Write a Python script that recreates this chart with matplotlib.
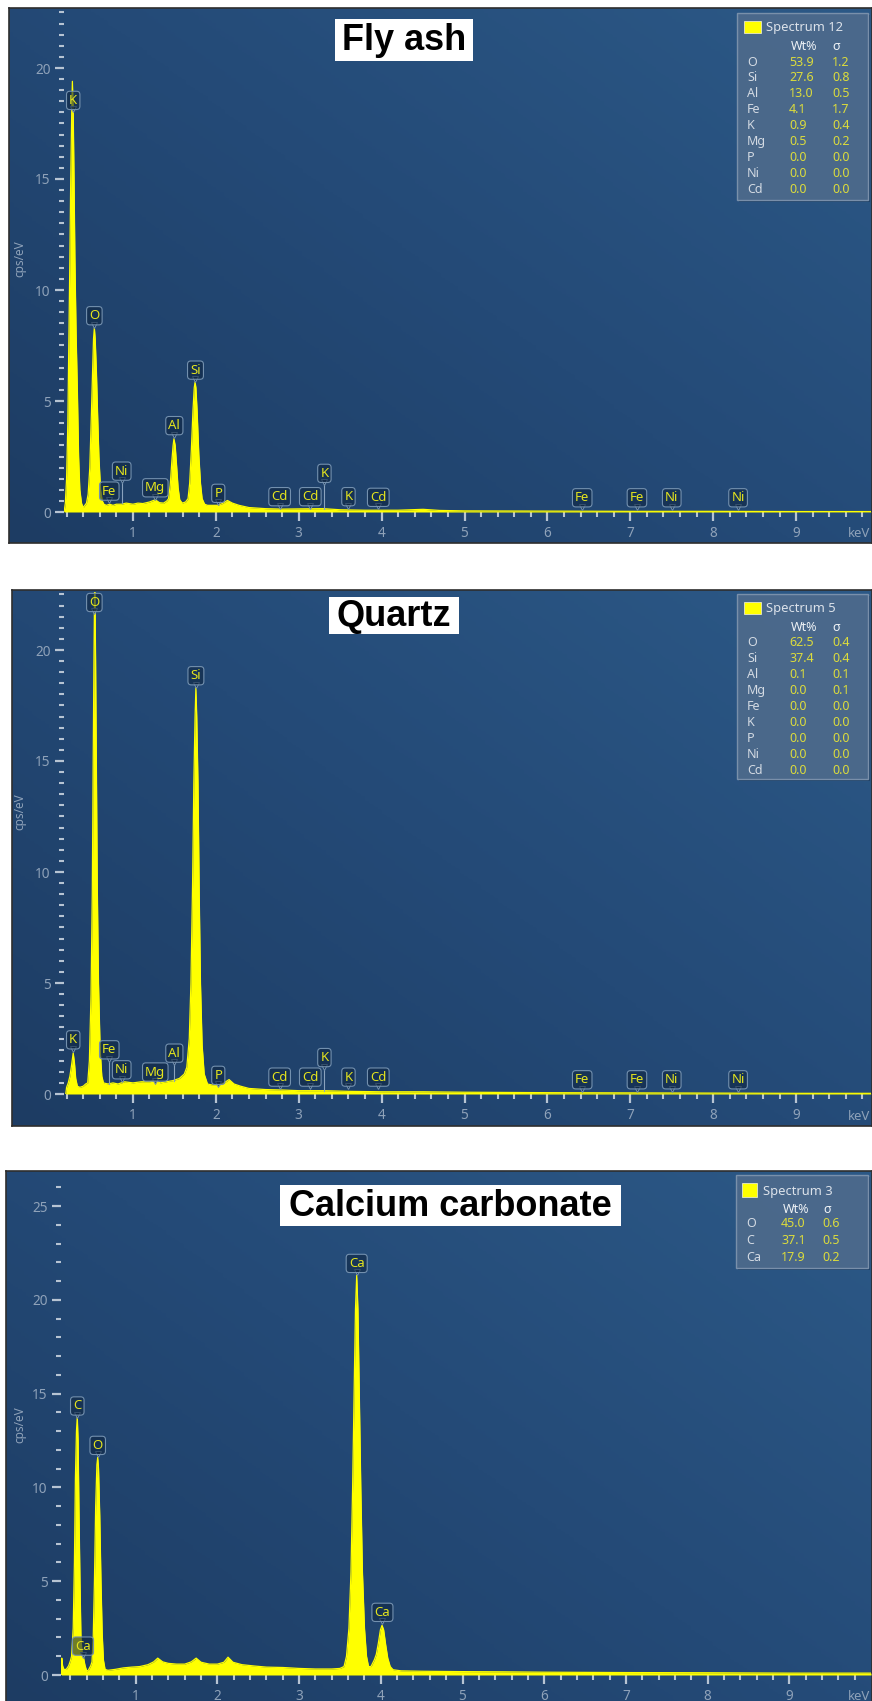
import matplotlib
matplotlib.use('Agg')
import matplotlib.pyplot as plt
import numpy as np
import matplotlib.transforms as mtransforms
from matplotlib.colors import LinearSegmentedColormap
from matplotlib.patches import Rectangle
from matplotlib.ticker import FixedLocator, MultipleLocator

# ---------------- DATA ----------------
panel_titles = ["Fly ash", "Quartz", "Calcium carbonate"]
spectrum_names = ["Spectrum 12", "Spectrum 5", "Spectrum 3"]

fly_elements = ["O", "Si", "Al", "Fe", "K", "Mg", "P", "Ni", "Cd"]
fly_wt = ["53.9", "27.6", "13.0", "4.1", "0.9", "0.5", "0.0", "0.0", "0.0"]
fly_sigma = ["1.2", "0.8", "0.5", "1.7", "0.4", "0.2", "0.0", "0.0", "0.0"]

qz_elements = ["O", "Si", "Al", "Mg", "Fe", "K", "P", "Ni", "Cd"]
qz_wt = ["62.5", "37.4", "0.1", "0.0", "0.0", "0.0", "0.0", "0.0", "0.0"]
qz_sigma = ["0.4", "0.4", "0.1", "0.1", "0.0", "0.0", "0.0", "0.0", "0.0"]

cc_elements = ["O", "C", "Ca"]
cc_wt = ["45.0", "37.1", "17.9"]
cc_sigma = ["0.6", "0.5", "0.2"]

# spectra: (keV, cps/eV)
fly_points = [(0.17, 0.0), (0.185, 0.4), (0.20, 1.5), (0.215, 4.0), (0.225, 7.0), (0.24, 11.5), (0.25, 15.0),
              (0.262, 18.0), (0.27, 19.4), (0.28, 18.0), (0.29, 15.0), (0.30, 11.5), (0.315, 8.0), (0.33, 5.5),
              (0.345, 2.5), (0.36, 1.0), (0.38, 0.4), (0.40, 0.2), (0.42, 0.3),
              (0.44, 0.4), (0.46, 0.8), (0.48, 2.0), (0.50, 4.5), (0.515, 6.5), (0.525, 7.8), (0.535, 8.3),
              (0.545, 7.8), (0.56, 6.3), (0.575, 4.3), (0.59, 2.5), (0.61, 1.0), (0.63, 0.5), (0.65, 0.35),
              (0.68, 0.3), (0.72, 0.35), (0.76, 0.3), (0.80, 0.35), (0.86, 0.35), (0.92, 0.4), (1.00, 0.35),
              (1.06, 0.4), (1.12, 0.38), (1.20, 0.45), (1.27, 0.55), (1.32, 0.42), (1.37, 0.4), (1.41, 0.5),
              (1.43, 0.6), (1.45, 1.2), (1.47, 2.3), (1.485, 3.0), (1.495, 3.3), (1.51, 3.0), (1.525, 2.2),
              (1.545, 1.1), (1.565, 0.55), (1.595, 0.4), (1.635, 0.45),
              (1.665, 0.6), (1.685, 1.3), (1.705, 2.8), (1.725, 4.6), (1.74, 5.6), (1.75, 5.85), (1.76, 5.6),
              (1.775, 4.5), (1.795, 2.6), (1.815, 1.3), (1.835, 0.6), (1.865, 0.35), (1.90, 0.3), (1.96, 0.3),
              (2.02, 0.3), (2.08, 0.38), (2.14, 0.52), (2.20, 0.4), (2.28, 0.3), (2.40, 0.2), (2.60, 0.15),
              (2.80, 0.13), (3.00, 0.14), (3.30, 0.15), (3.50, 0.1), (3.80, 0.08), (4.20, 0.08), (4.50, 0.12),
              (4.70, 0.07), (5.00, 0.05), (6.00, 0.04), (7.00, 0.03), (8.00, 0.03), (9.00, 0.02), (9.90, 0.02)]

qz_points = [(0.19, 0.0), (0.20, 0.3), (0.22, 0.5), (0.24, 0.8), (0.26, 1.3), (0.28, 1.85), (0.295, 1.4),
             (0.31, 0.7), (0.33, 0.35), (0.36, 0.3), (0.40, 0.35), (0.43, 0.45),
             (0.455, 0.5), (0.475, 1.5), (0.495, 4.5), (0.51, 9.0), (0.52, 14.5), (0.53, 19.5), (0.54, 23.5),
             (0.55, 19.5), (0.56, 14.5), (0.57, 9.5), (0.585, 5.0), (0.605, 2.0), (0.625, 0.8), (0.645, 0.5),
             (0.70, 0.45), (0.76, 0.5), (0.82, 0.45), (0.90, 0.55), (1.00, 0.5), (1.10, 0.55), (1.20, 0.55),
             (1.27, 0.6), (1.33, 0.5), (1.40, 0.55), (1.48, 0.6), (1.56, 0.7), (1.62, 0.9),
             (1.65, 1.2), (1.68, 2.5), (1.70, 5.0), (1.72, 9.5), (1.735, 14.0), (1.75, 17.0), (1.76, 18.3),
             (1.77, 17.0), (1.785, 14.0), (1.80, 9.0), (1.815, 5.0), (1.835, 2.2), (1.86, 0.9), (1.90, 0.45),
             (1.96, 0.4), (2.04, 0.4), (2.10, 0.5), (2.16, 0.65), (2.22, 0.45), (2.30, 0.35), (2.40, 0.25),
             (2.60, 0.2), (2.80, 0.18), (3.00, 0.15), (3.30, 0.15), (3.60, 0.12), (4.00, 0.1), (4.50, 0.1),
             (5.00, 0.08), (6.00, 0.06), (7.00, 0.05), (8.00, 0.04), (9.00, 0.03), (9.90, 0.03)]

cc_points = [(0.09, 0.0), (0.095, 0.9), (0.105, 0.5), (0.12, 0.3), (0.15, 0.3), (0.18, 0.5), (0.20, 0.75),
             (0.215, 1.0), (0.235, 2.5), (0.25, 6.0), (0.262, 10.5), (0.275, 13.0), (0.285, 13.75),
             (0.295, 12.5), (0.305, 9.0), (0.318, 5.0), (0.33, 2.0), (0.345, 1.1), (0.36, 0.95), (0.38, 0.5),
             (0.40, 0.22), (0.42, 0.25), (0.45, 0.5),
             (0.465, 0.7), (0.48, 2.0), (0.495, 5.0), (0.51, 9.0), (0.525, 11.2), (0.535, 11.6), (0.545, 11.0),
             (0.56, 8.5), (0.575, 5.0), (0.59, 2.2), (0.605, 0.8), (0.625, 0.3), (0.66, 0.25),
             (0.75, 0.3), (0.85, 0.38), (0.95, 0.42), (1.05, 0.45), (1.15, 0.55), (1.22, 0.7), (1.27, 0.9),
             (1.33, 0.7), (1.40, 0.62), (1.50, 0.58), (1.60, 0.58), (1.68, 0.7), (1.74, 0.9), (1.80, 0.68),
             (1.90, 0.58), (2.00, 0.58), (2.08, 0.68), (2.13, 0.95), (2.19, 0.68), (2.30, 0.55), (2.45, 0.48),
             (2.60, 0.42), (2.80, 0.4), (3.00, 0.35), (3.20, 0.32), (3.40, 0.32), (3.50, 0.35),
             (3.55, 0.45), (3.58, 1.0), (3.61, 2.5), (3.635, 5.5), (3.655, 10.0), (3.675, 15.5), (3.69, 19.5),
             (3.705, 21.3), (3.72, 19.5), (3.735, 15.5), (3.755, 10.0), (3.775, 5.5), (3.80, 2.5), (3.825, 1.0),
             (3.85, 0.45), (3.88, 0.45), (3.92, 0.8),
             (3.945, 1.1), (3.97, 1.7), (3.995, 2.4), (4.015, 2.65), (4.035, 2.4), (4.06, 1.6), (4.085, 0.9),
             (4.115, 0.45), (4.15, 0.28), (4.25, 0.22), (4.50, 0.2), (5.00, 0.18), (5.50, 0.17), (6.00, 0.15),
             (7.00, 0.13), (8.00, 0.12), (9.00, 0.1), (10.00, 0.1)]

# element markers: text, keV, pointer height (cps), leader-line foot (cps)
fly_lab_text = ["K", "O", "Fe", "Ni", "Mg", "Al", "Si", "P", "Cd", "Cd", "K", "K", "Cd", "Fe", "Fe", "Ni", "Ni"]
fly_lab_kev = [0.28, 0.535, 0.715, 0.865, 1.27, 1.50, 1.755, 2.03, 2.77, 3.14, 3.31, 3.60, 3.96, 6.42, 7.08, 7.50, 8.30]
fly_lab_tip = [18.0, 8.3, 0.4, 1.3, 0.55, 3.35, 5.85, 0.3, 0.15, 0.15, 1.2, 0.15, 0.12, 0.1, 0.1, 0.1, 0.1]
fly_lab_foot = [18.0, 8.3, 0.4, 0.4, 0.55, 3.35, 5.85, 0.3, 0.15, 0.15, 0.15, 0.15, 0.12, 0.1, 0.1, 0.1, 0.1]

qz_lab_text = ["K", "O", "Fe", "Ni", "Mg", "Al", "Si", "P", "Cd", "Cd", "K", "K", "Cd", "Fe", "Fe", "Ni", "Ni"]
qz_lab_kev = [0.28, 0.535, 0.715, 0.865, 1.27, 1.50, 1.76, 2.03, 2.77, 3.14, 3.31, 3.60, 3.96, 6.42, 7.08, 7.50, 8.30]
qz_lab_tip = [1.9, 21.6, 1.45, 0.55, 0.45, 1.3, 18.3, 0.3, 0.22, 0.22, 1.1, 0.22, 0.22, 0.1, 0.1, 0.1, 0.1]
qz_lab_foot = [1.9, 21.6, 0.45, 0.55, 0.45, 0.6, 18.3, 0.3, 0.22, 0.22, 0.15, 0.22, 0.22, 0.1, 0.1, 0.1, 0.1]

cc_lab_text = ["C", "O", "Ca", "Ca", "Ca"]
cc_lab_kev = [0.285, 0.535, 0.355, 3.705, 4.02]
cc_lab_tip = [13.7, 11.6, 0.9, 21.3, 2.7]
cc_lab_foot = [13.7, 11.6, 0.9, 21.3, 2.7]

x_major = [1, 2, 3, 4, 5, 6, 7, 8, 9]

# ---------------- LAYOUT ----------------
W, H = 872, 1701
fig = plt.figure(figsize=(W / 100, H / 100), dpi=100)
fig.patch.set_facecolor('white')

UI_FONT = ['Noto Sans', 'DejaVu Sans']
TICK_COL = '#b7c4d3'
LBL_COL = '#8fa2b9'
YEL = '#ffff00'
LAB_YEL = '#e4e41e'

cmap = LinearSegmentedColormap.from_list('bg', ['#1d3c63', '#244a77', '#2c5987'])


def px_axes(l, t, r, b, z=0):
    return fig.add_axes([l / W, 1 - b / H, (r - l) / W, (b - t) / H], zorder=z)


panels = [
    dict(bg=(9, 8, 872, 543), ax=(64, 10, 871, 512), x0=50.0, kx=82.9, ky=22.2, ymaj=5, ymin=0.5,
         pts=fly_points, lab=(fly_lab_text, fly_lab_kev, fly_lab_tip, fly_lab_foot)),
    dict(bg=(12, 590, 872, 1126), ax=(64, 592, 871, 1094), x0=50.0, kx=82.9, ky=22.2, ymaj=5, ymin=0.5,
         pts=qz_points, lab=(qz_lab_text, qz_lab_kev, qz_lab_tip, qz_lab_foot)),
    dict(bg=(6, 1171, 872, 1705), ax=(61, 1173, 871, 1675), x0=54.0, kx=81.7, ky=18.76, ymaj=5, ymin=1,
         pts=cc_points, lab=(cc_lab_text, cc_lab_kev, cc_lab_tip, cc_lab_foot)),
]

for p in panels:
    l, t, r, b = p['bg']
    bg = px_axes(l, t, r, b, z=0)
    gx = np.linspace(0, 1, 200)
    gy = np.linspace(0, 1, 200)
    GX, GY = np.meshgrid(gx, gy)
    grad = 0.55 * GX + 0.45 * GY
    bg.imshow(grad, cmap=cmap, aspect='auto', extent=(0, 1, 0, 1), origin='lower', vmin=0, vmax=1)
    bg.set_xticks([])
    bg.set_yticks([])
    for s in bg.spines.values():
        s.set_color('#2e2e2e')
        s.set_linewidth(1.2)

    al, at, ar, ab = p['ax']
    ax = px_axes(al, at, ar, ab, z=1)
    ax.set_facecolor('none')
    ax.set_xlim((al - p['x0']) / p['kx'], (ar - p['x0']) / p['kx'])
    ax.set_ylim(0, (ab - at) / p['ky'])
    for s in ax.spines.values():
        s.set_visible(False)

    kev, cps = zip(*p['pts'])
    ax.fill_between(kev, cps, 0, color=YEL, lw=0.0, zorder=2)
    ax.plot(kev, cps, color=YEL, lw=0.9, zorder=2)

    ax.xaxis.set_major_locator(FixedLocator(x_major))
    ax.xaxis.set_minor_locator(FixedLocator(np.arange(0.2, 9.81, 0.2)))
    ax.yaxis.set_major_locator(MultipleLocator(p['ymaj']))
    ax.yaxis.set_minor_locator(MultipleLocator(p['ymin']))
    ax.tick_params(which='major', direction='out', length=6.5, width=1.6, color=TICK_COL,
                   labelcolor=LBL_COL, labelsize=9.8, pad=3)
    ax.tick_params(which='minor', direction='out', length=3.4, width=1.5, color=TICK_COL)
    ax.tick_params(axis='x', which='major', pad=3.5)
    for tl in ax.get_xticklabels() + ax.get_yticklabels():
        tl.set_fontfamily(UI_FONT)

    off_marker = mtransforms.offset_copy(ax.transData, fig=fig, x=0, y=2.2, units='points')
    texts, kevs, tips, feet = p['lab']
    for txt, e, tip, foot in zip(texts, kevs, tips, feet):
        if foot < tip:
            ax.plot([e, e], [foot, tip], color='#8aa2bd', lw=0.8, zorder=3)
        ax.plot([e], [tip], marker='v', ms=4.5, mfc=(0.07, 0.16, 0.27, 0.75), mec='#7390ae', mew=0.7,
                transform=off_marker, zorder=4, clip_on=False)
        ax.annotate(txt, xy=(e, tip), xytext=(0, 5.5), textcoords='offset pixels', ha='center', va='bottom',
                    color=LAB_YEL, fontsize=9.5, family=UI_FONT, zorder=5, annotation_clip=False,
                    bbox=dict(boxstyle='round,pad=0.2,rounding_size=0.25', fc=(0.06, 0.15, 0.26, 0.6),
                              ec='#7390ae', lw=0.8))

# overlay in pixel coordinates
ov = fig.add_axes([0, 0, 1, 1], zorder=10)
ov.set_xlim(0, W)
ov.set_ylim(H, 0)
ov.axis('off')
ov.patch.set_alpha(0)

# titles
title_boxes = [(335, 19, 473, 61), (329, 597, 459, 634), (280, 1185, 621, 1226)]
for ttl, (l, t, r, b) in zip(panel_titles, title_boxes):
    ov.add_patch(Rectangle((l, t), r - l, b - t, fc='white', ec='none'))
    ov.text((l + r) / 2, (t + b) / 2 + 1, ttl, ha='center', va='center', fontsize=26, fontweight='bold',
            family=['Liberation Sans', 'DejaVu Sans'], color='black')

# y labels and keV labels
for yc in (259, 812, 1425):
    ov.text(20, yc, 'cps/eV', rotation=90, ha='center', va='center', color=LBL_COL, fontsize=8.5, family=UI_FONT)
for yk in (533, 1116, 1696):
    ov.text(870, yk, 'keV', ha='right', va='center', color=LBL_COL, fontsize=9.5, family=UI_FONT)

# element tables
tables = [
    dict(box=(737, 13, 868, 200), sq=(744, 21, 17, 12), name_x=766, head_y=27, wt_x=804, sig_x=836,
         col_y=47, row0=62, dy=15.9, nx=747, vx=789, sx=832,
         name=spectrum_names[0], els=fly_elements, wt=fly_wt, sg=fly_sigma),
    dict(box=(737, 594, 868, 779), sq=(744, 602, 17, 12), name_x=766, head_y=608, wt_x=804, sig_x=836,
         col_y=627, row0=642, dy=16.1, nx=747, vx=789, sx=832,
         name=spectrum_names[1], els=qz_elements, wt=qz_wt, sg=qz_sigma),
    dict(box=(736, 1175, 868, 1268), sq=(742, 1183, 15, 14), name_x=763, head_y=1191, wt_x=796, sig_x=827,
         col_y=1209, row0=1223, dy=17.0, nx=746, vx=781, sx=822,
         name=spectrum_names[2], els=cc_elements, wt=cc_wt, sg=cc_sigma),
]
for tb in tables:
    l, t, r, b = tb['box']
    ov.add_patch(Rectangle((l + 2, t + 2), r - l, b - t, fc='#16304f', ec='none', alpha=0.5))
    ov.add_patch(Rectangle((l, t), r - l, b - t, fc='#4d6b8d', ec='#7d93ad', lw=1.0, alpha=0.95))
    sx, sy, sw, sh = tb['sq']
    ov.add_patch(Rectangle((sx, sy), sw, sh, fc=YEL, ec='#e8e8c8', lw=0.6))
    ov.text(tb['name_x'], tb['head_y'], tb['name'], ha='left', va='center', color='#dce2ea', fontsize=9.3,
            family=UI_FONT)
    ov.text(tb['wt_x'], tb['col_y'], 'Wt%', ha='center', va='center', color='#eef2f6', fontsize=9,
            fontweight='bold', family=UI_FONT)
    ov.text(tb['sig_x'], tb['col_y'], 'σ', ha='center', va='center', color='#eef2f6', fontsize=9,
            fontweight='bold', family=UI_FONT)
    for i, (el, w, s) in enumerate(zip(tb['els'], tb['wt'], tb['sg'])):
        y = tb['row0'] + i * tb['dy']
        ov.text(tb['nx'], y, el, ha='left', va='center', color='#d3dae3', fontsize=9, family=UI_FONT)
        ov.text(tb['vx'], y, w, ha='left', va='center', color='#dcdc3c', fontsize=9, family=UI_FONT)
        ov.text(tb['sx'], y, s, ha='left', va='center', color='#dcdc3c', fontsize=9, family=UI_FONT)

fig.savefig('out.png', dpi=100, facecolor='white')
